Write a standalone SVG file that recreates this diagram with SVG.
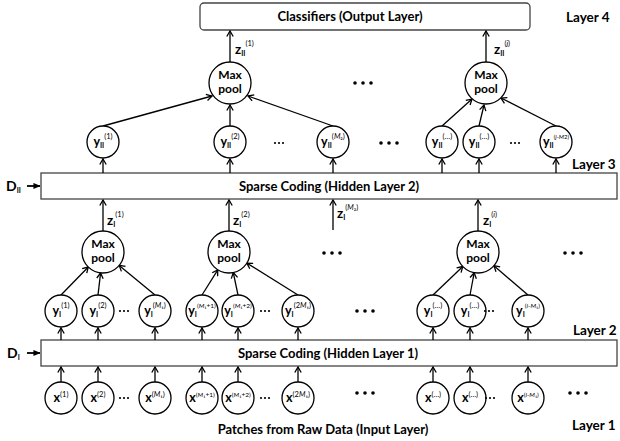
<svg xmlns="http://www.w3.org/2000/svg" width="620" height="441" viewBox="0 0 620 441">
<style>
text{font-family:Lato,"Liberation Sans",sans-serif;fill:#000}
.t{font-weight:bold;font-size:13px}
.lay{font-weight:bold;font-size:13.5px}
.mp{font-weight:bold;font-size:12px}
.v{font-weight:bold;font-size:12.5px}
.z{font-weight:bold;font-size:13.5px}
.sub{font-weight:bold;font-size:7px}
.sup{font-size:7.5px}
.it{font-style:italic}
.node{fill:#fff;stroke:#000;stroke-width:1.3}
.box{fill:#fff;stroke:#444;stroke-width:1.3}
.e{stroke:#000;stroke-width:1.3;fill:none;marker-end:url(#ah)}
.d{stroke:#000;stroke-width:1.8;fill:none;marker-end:url(#dh)}
.dot{fill:#000}
</style>
<defs>
<marker id="ah" viewBox="0 0 8 8" refX="7" refY="4" markerWidth="8" markerHeight="8" markerUnits="userSpaceOnUse" orient="auto">
<path d="M1.5,0.8 L7,4 L1.5,7.2" fill="none" stroke="#000" stroke-width="1.3"/>
</marker>
<marker id="dh" viewBox="0 0 8 8" refX="7.5" refY="4" markerWidth="7" markerHeight="7" markerUnits="userSpaceOnUse" orient="auto">
<path d="M0,0.5 L8,4 L0,7.5 Z" fill="#000"/>
</marker>
</defs>

<!-- boxes -->
<g id="classifiers"><rect class="box" x="200" y="3" width="330" height="27" rx="4"/><text class="t" x="350" y="21" text-anchor="middle">Classifiers (Output Layer)</text></g>
<g id="sc2"><rect class="box" x="41" y="173" width="576" height="26"/><text class="t" x="329" y="190.5" text-anchor="middle">Sparse Coding (Hidden Layer 2)</text></g>
<g id="sc1"><rect class="box" x="41" y="340" width="576" height="26"/><text class="t" x="328" y="357.5" text-anchor="middle">Sparse Coding (Hidden Layer 1)</text></g>
<g id="input-label"><text class="t" x="323" y="434" text-anchor="middle">Patches from Raw Data (Input Layer)</text></g>

<!-- layer labels -->
<g id="layers">
<text class="lay" x="566" y="22">Layer 4</text>
<text class="lay" x="572" y="169">Layer 3</text>
<text class="lay" x="573" y="335">Layer 2</text>
<text class="lay" x="572" y="430">Layer 1</text>
</g>

<!-- D labels -->
<g id="DII"><text x="6" y="191"><tspan style="font-weight:bold;font-size:14px">D</tspan><tspan class="sub" dy="2">II</tspan></text></g>
<g id="DI"><text x="7" y="358"><tspan style="font-weight:bold;font-size:14px">D</tspan><tspan class="sub" dy="2">I</tspan></text></g>

<!-- connectors -->
<g id="connectors">
<line class="d" x1="27" y1="186" x2="40" y2="186"/>
<line class="d" x1="27" y1="353" x2="40" y2="353"/>
<line class="e" x1="230" y1="62" x2="230" y2="31"/>
<line class="e" x1="486" y1="62" x2="486" y2="31"/>
<line class="e" x1="103" y1="126" x2="212" y2="96"/>
<line class="e" x1="230" y1="126" x2="230" y2="105"/>
<line class="e" x1="333" y1="126" x2="248" y2="96"/>
<line class="e" x1="442" y1="126" x2="472" y2="99"/>
<line class="e" x1="479" y1="126" x2="484" y2="105"/>
<line class="e" x1="556" y1="126" x2="501" y2="98"/>
<line class="e" x1="103" y1="173" x2="103" y2="159"/>
<line class="e" x1="230" y1="173" x2="230" y2="159"/>
<line class="e" x1="333" y1="173" x2="333" y2="159"/>
<line class="e" x1="442" y1="173" x2="442" y2="159"/>
<line class="e" x1="479" y1="173" x2="479" y2="159"/>
<line class="e" x1="556" y1="173" x2="556" y2="159"/>
<line class="e" x1="103" y1="231" x2="103" y2="200"/>
<line class="e" x1="229" y1="231" x2="229" y2="200"/>
<line class="e" x1="333" y1="230" x2="333" y2="200"/>
<line class="e" x1="478" y1="231" x2="478" y2="200"/>
<line class="e" x1="61" y1="295" x2="88.3" y2="267"/>
<line class="e" x1="98" y1="295" x2="100.6" y2="272.9"/>
<line class="e" x1="155" y1="295" x2="119.2" y2="265.4"/>
<line class="e" x1="202" y1="295" x2="217.8" y2="269.8"/>
<line class="e" x1="238" y1="295" x2="233.3" y2="272.6"/>
<line class="e" x1="298" y1="295" x2="246.8" y2="263.1"/>
<line class="e" x1="433" y1="295" x2="462.8" y2="266.5"/>
<line class="e" x1="470" y1="295" x2="474.2" y2="272.7"/>
<line class="e" x1="528" y1="295" x2="493.9" y2="265.7"/>
<line class="e" x1="61" y1="340" x2="61" y2="328"/>
<line class="e" x1="98" y1="340" x2="98" y2="328"/>
<line class="e" x1="155" y1="340" x2="155" y2="328"/>
<line class="e" x1="202" y1="340" x2="202" y2="328"/>
<line class="e" x1="238" y1="340" x2="238" y2="328"/>
<line class="e" x1="298" y1="340" x2="298" y2="328"/>
<line class="e" x1="433" y1="340" x2="433" y2="328"/>
<line class="e" x1="470" y1="340" x2="470" y2="328"/>
<line class="e" x1="528" y1="340" x2="528" y2="328"/>
<line class="e" x1="61" y1="382" x2="61" y2="367"/>
<line class="e" x1="98" y1="382" x2="98" y2="367"/>
<line class="e" x1="155" y1="382" x2="155" y2="367"/>
<line class="e" x1="202" y1="382" x2="202" y2="367"/>
<line class="e" x1="238" y1="382" x2="238" y2="367"/>
<line class="e" x1="298" y1="382" x2="298" y2="367"/>
<line class="e" x1="433" y1="382" x2="433" y2="367"/>
<line class="e" x1="470" y1="382" x2="470" y2="367"/>
<line class="e" x1="528" y1="382" x2="528" y2="367"/>
</g>

<!-- z labels -->
<g id="z-labels">
<text x="235" y="54"><tspan class="z">z</tspan><tspan class="sub" dy="2">II</tspan><tspan class="sup" dy="-10">(1)</tspan></text>
<text x="494" y="54"><tspan class="z">z</tspan><tspan class="sub" dy="2">II</tspan><tspan class="sup" dy="-10">(<tspan class="it">j</tspan>)</tspan></text>
<text x="107" y="225"><tspan class="z">z</tspan><tspan class="sub" dy="2">I</tspan><tspan class="sup" dy="-10">(1)</tspan></text>
<text x="233" y="225"><tspan class="z">z</tspan><tspan class="sub" dy="2">I</tspan><tspan class="sup" dy="-10">(2)</tspan></text>
<text x="337" y="218"><tspan class="z">z</tspan><tspan class="sub" dy="2">I</tspan><tspan class="sup" dy="-10">(<tspan class="it">M</tspan>₂)</tspan></text>
<text x="483" y="225"><tspan class="z">z</tspan><tspan class="sub" dy="2">I</tspan><tspan class="sup" dy="-10">(<tspan class="it">i</tspan>)</tspan></text>
</g>

<!-- max pool nodes -->
<g id="maxII1"><circle class="node" cx="230" cy="83" r="21"/><text class="mp" x="230" y="79" text-anchor="middle">Max</text><text class="mp" x="230" y="92.5" text-anchor="middle">pool</text></g>
<g id="maxII2"><circle class="node" cx="486" cy="83" r="21"/><text class="mp" x="486" y="79" text-anchor="middle">Max</text><text class="mp" x="486" y="92.5" text-anchor="middle">pool</text></g>
<g id="maxI1"><circle class="node" cx="103" cy="252" r="21"/><text class="mp" x="103" y="248" text-anchor="middle">Max</text><text class="mp" x="103" y="261.5" text-anchor="middle">pool</text></g>
<g id="maxI2"><circle class="node" cx="229" cy="252" r="21"/><text class="mp" x="229" y="248" text-anchor="middle">Max</text><text class="mp" x="229" y="261.5" text-anchor="middle">pool</text></g>
<g id="maxI3"><circle class="node" cx="478" cy="252" r="21"/><text class="mp" x="478" y="248" text-anchor="middle">Max</text><text class="mp" x="478" y="261.5" text-anchor="middle">pool</text></g>

<!-- y_II nodes -->
<g id="yII1"><circle class="node" cx="103" cy="142" r="16"/><text x="103" y="146" text-anchor="middle"><tspan class="v">y</tspan><tspan class="sub" dy="2">II</tspan><tspan class="sup" dy="-9">(1)</tspan></text></g>
<g id="yII2"><circle class="node" cx="230" cy="142" r="16"/><text x="230" y="146" text-anchor="middle"><tspan class="v">y</tspan><tspan class="sub" dy="2">II</tspan><tspan class="sup" dy="-9">(2)</tspan></text></g>
<g id="yIIM2"><circle class="node" cx="333" cy="142" r="16"/><text x="333" y="146" text-anchor="middle"><tspan class="v">y</tspan><tspan class="sub" dy="2">II</tspan><tspan class="sup" dy="-9">(<tspan class="it">M</tspan>₂)</tspan></text></g>
<g id="yIIa"><circle class="node" cx="442" cy="142" r="16"/><text x="442" y="146" text-anchor="middle"><tspan class="v">y</tspan><tspan class="sub" dy="2">II</tspan><tspan class="sup" dy="-9">(…)</tspan></text></g>
<g id="yIIb"><circle class="node" cx="479" cy="142" r="16"/><text x="479" y="146" text-anchor="middle"><tspan class="v">y</tspan><tspan class="sub" dy="2">II</tspan><tspan class="sup" dy="-9">(…)</tspan></text></g>
<g id="yIIj"><circle class="node" cx="556" cy="142" r="16"/><text x="556" y="146" text-anchor="middle"><tspan class="v">y</tspan><tspan class="sub" dy="2">II</tspan><tspan class="sup" dy="-9" style="font-size:6px">(<tspan class="it">j</tspan>-<tspan class="it">M</tspan>2)</tspan></text></g>

<!-- y_I nodes -->
<g id="yI1"><circle class="node" cx="61" cy="311" r="16"/><text x="61" y="315" text-anchor="middle"><tspan class="v">y</tspan><tspan class="sub" dy="2">I</tspan><tspan class="sup" dy="-9">(1)</tspan></text></g>
<g id="yI2"><circle class="node" cx="98" cy="311" r="16"/><text x="98" y="315" text-anchor="middle"><tspan class="v">y</tspan><tspan class="sub" dy="2">I</tspan><tspan class="sup" dy="-9">(2)</tspan></text></g>
<g id="yIM1"><circle class="node" cx="155" cy="311" r="16"/><text x="155" y="315" text-anchor="middle"><tspan class="v">y</tspan><tspan class="sub" dy="2">I</tspan><tspan class="sup" dy="-9">(<tspan class="it">M</tspan>₁)</tspan></text></g>
<g id="yIM1p1"><circle class="node" cx="202" cy="311" r="16"/><text x="202" y="315" text-anchor="middle"><tspan class="v">y</tspan><tspan class="sub" dy="2">I</tspan><tspan class="sup" dy="-9" style="font-size:6.5px">(<tspan class="it">M</tspan>₁+1)</tspan></text></g>
<g id="yIM1p2"><circle class="node" cx="238" cy="311" r="16"/><text x="238" y="315" text-anchor="middle"><tspan class="v">y</tspan><tspan class="sub" dy="2">I</tspan><tspan class="sup" dy="-9" style="font-size:6.5px">(<tspan class="it">M</tspan>₁+2)</tspan></text></g>
<g id="yI2M1"><circle class="node" cx="298" cy="311" r="16"/><text x="298" y="315" text-anchor="middle"><tspan class="v">y</tspan><tspan class="sub" dy="2">I</tspan><tspan class="sup" dy="-9">(2<tspan class="it">M</tspan>₁)</tspan></text></g>
<g id="yIa"><circle class="node" cx="433" cy="311" r="16"/><text x="433" y="315" text-anchor="middle"><tspan class="v">y</tspan><tspan class="sub" dy="2">I</tspan><tspan class="sup" dy="-9">(…)</tspan></text></g>
<g id="yIb"><circle class="node" cx="470" cy="311" r="16"/><text x="470" y="315" text-anchor="middle"><tspan class="v">y</tspan><tspan class="sub" dy="2">I</tspan><tspan class="sup" dy="-9">(…)</tspan></text></g>
<g id="yIi"><circle class="node" cx="528" cy="311" r="16"/><text x="528" y="315" text-anchor="middle"><tspan class="v">y</tspan><tspan class="sub" dy="2">I</tspan><tspan class="sup" dy="-9" style="font-size:6.5px">(<tspan class="it">i</tspan>-<tspan class="it">M</tspan>₁)</tspan></text></g>

<!-- x nodes -->
<g id="x1"><circle class="node" cx="61" cy="398" r="16"/><text x="61" y="402" text-anchor="middle"><tspan class="v">x</tspan><tspan class="sup" dy="-5">(1)</tspan></text></g>
<g id="x2"><circle class="node" cx="98" cy="398" r="16"/><text x="98" y="402" text-anchor="middle"><tspan class="v">x</tspan><tspan class="sup" dy="-5">(2)</tspan></text></g>
<g id="xM1"><circle class="node" cx="155" cy="398" r="16"/><text x="155" y="402" text-anchor="middle"><tspan class="v">x</tspan><tspan class="sup" dy="-5">(<tspan class="it">M</tspan>₁)</tspan></text></g>
<g id="xM1p1"><circle class="node" cx="202" cy="398" r="16"/><text x="202" y="402" text-anchor="middle"><tspan class="v">x</tspan><tspan class="sup" dy="-5" style="font-size:6.5px">(<tspan class="it">M</tspan>₁+1)</tspan></text></g>
<g id="xM1p2"><circle class="node" cx="238" cy="398" r="16"/><text x="238" y="402" text-anchor="middle"><tspan class="v">x</tspan><tspan class="sup" dy="-5" style="font-size:6.5px">(<tspan class="it">M</tspan>₁+2)</tspan></text></g>
<g id="x2M1"><circle class="node" cx="298" cy="398" r="16"/><text x="298" y="402" text-anchor="middle"><tspan class="v">x</tspan><tspan class="sup" dy="-5">(2<tspan class="it">M</tspan>₁)</tspan></text></g>
<g id="xa"><circle class="node" cx="433" cy="398" r="16"/><text x="433" y="402" text-anchor="middle"><tspan class="v">x</tspan><tspan class="sup" dy="-5">(…)</tspan></text></g>
<g id="xb"><circle class="node" cx="470" cy="398" r="16"/><text x="470" y="402" text-anchor="middle"><tspan class="v">x</tspan><tspan class="sup" dy="-5">(…)</tspan></text></g>
<g id="xi"><circle class="node" cx="528" cy="398" r="16"/><text x="528" y="402" text-anchor="middle"><tspan class="v">x</tspan><tspan class="sup" dy="-5" style="font-size:6.5px">(<tspan class="it">i</tspan>-<tspan class="it">M</tspan>₁)</tspan></text></g>

<!-- ellipses -->
<g id="dots" class="dot">
<circle cx="355" cy="83" r="1.8"/><circle cx="363" cy="83" r="1.8"/><circle cx="371" cy="83" r="1.8"/>
<circle cx="381" cy="143" r="1.8"/><circle cx="389" cy="143" r="1.8"/><circle cx="397" cy="143" r="1.8"/>
<circle cx="324" cy="253" r="1.8"/><circle cx="332" cy="253" r="1.8"/><circle cx="340" cy="253" r="1.8"/>
<circle cx="357" cy="311" r="1.8"/><circle cx="365" cy="311" r="1.8"/><circle cx="373" cy="311" r="1.8"/>
<circle cx="565" cy="253" r="1.8"/><circle cx="573" cy="253" r="1.8"/><circle cx="581" cy="253" r="1.8"/>
<circle cx="357" cy="393" r="1.8"/><circle cx="365" cy="393" r="1.8"/><circle cx="373" cy="393" r="1.8"/>
<circle cx="570" cy="393" r="1.8"/><circle cx="578" cy="393" r="1.8"/><circle cx="586" cy="393" r="1.8"/>
<circle cx="275" cy="143" r="1.1"/><circle cx="279" cy="143" r="1.1"/><circle cx="283" cy="143" r="1.1"/>
<circle cx="511" cy="143" r="1.1"/><circle cx="515" cy="143" r="1.1"/><circle cx="519" cy="143" r="1.1"/>
<circle cx="120" cy="311" r="1.1"/><circle cx="124" cy="311" r="1.1"/><circle cx="128" cy="311" r="1.1"/>
<circle cx="261" cy="311" r="1.1"/><circle cx="265" cy="311" r="1.1"/><circle cx="269" cy="311" r="1.1"/>
<circle cx="485" cy="311" r="1.1"/><circle cx="489" cy="311" r="1.1"/><circle cx="493" cy="311" r="1.1"/>
<circle cx="120" cy="398" r="1.1"/><circle cx="124" cy="398" r="1.1"/><circle cx="128" cy="398" r="1.1"/>
<circle cx="261" cy="398" r="1.1"/><circle cx="265" cy="398" r="1.1"/><circle cx="269" cy="398" r="1.1"/>
<circle cx="486" cy="398" r="1.1"/><circle cx="490" cy="398" r="1.1"/><circle cx="494" cy="398" r="1.1"/>
</g>
</svg>
